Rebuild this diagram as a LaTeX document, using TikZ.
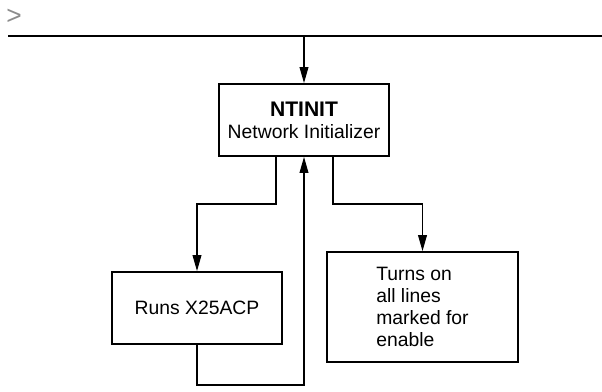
\documentclass[tikz,border=0pt]{standalone}
\usepackage{fontspec}
\setmainfont{Liberation Sans}
\usetikzlibrary{arrows.meta}
\tikzset{
  procbox/.style={draw, line width=1.1pt, minimum width=3.40cm, minimum height=1.44cm, inner sep=0pt, align=center},
  flow/.style={line width=0.6pt, -{Triangle[length=9pt,width=5pt]}},
}
\begin{document}
\begin{tikzpicture}[x=1cm,y=1cm]
\fontsize{11}{12.5}\selectfont
\useasboundingbox (0,0) rectangle (12.04,7.82);
% prompt and bus line
\node[text=black!45, font=\fontsize{15}{15}\selectfont] (prompt) at (0.28,7.48) {>};
\draw[line width=1.2pt] (0.16,7.10) -- (12.04,7.10);
\coordinate (bus) at (6.08,7.10);
% boxes
\node[procbox] (ntinit) at (6.08,5.42) {{\fontsize{12}{13}\selectfont\textbf{NTINIT}}\\Network Initializer};
\node[procbox] (runs) at (3.94,1.66) {Runs X25ACP};
\node[procbox, minimum width=3.82cm, minimum height=2.20cm, align=left] (lines) at (8.45,1.68) {Turns on\\all lines\\marked for\\enable};
% connectors
\coordinate (lbend) at (5.52,3.74);
\coordinate (rbend) at (6.66,3.74);
\coordinate (back) at (3.94,0.12);
\draw[flow] (bus) -- (ntinit.north);
\draw[flow] (lbend |- ntinit.south) -- (lbend) -| (runs.north);
\draw[flow] (rbend |- ntinit.south) -- (rbend) -| (lines.north);
\draw[flow] (runs.south) -- (back) -| (ntinit.south);
\end{tikzpicture}
\end{document}
